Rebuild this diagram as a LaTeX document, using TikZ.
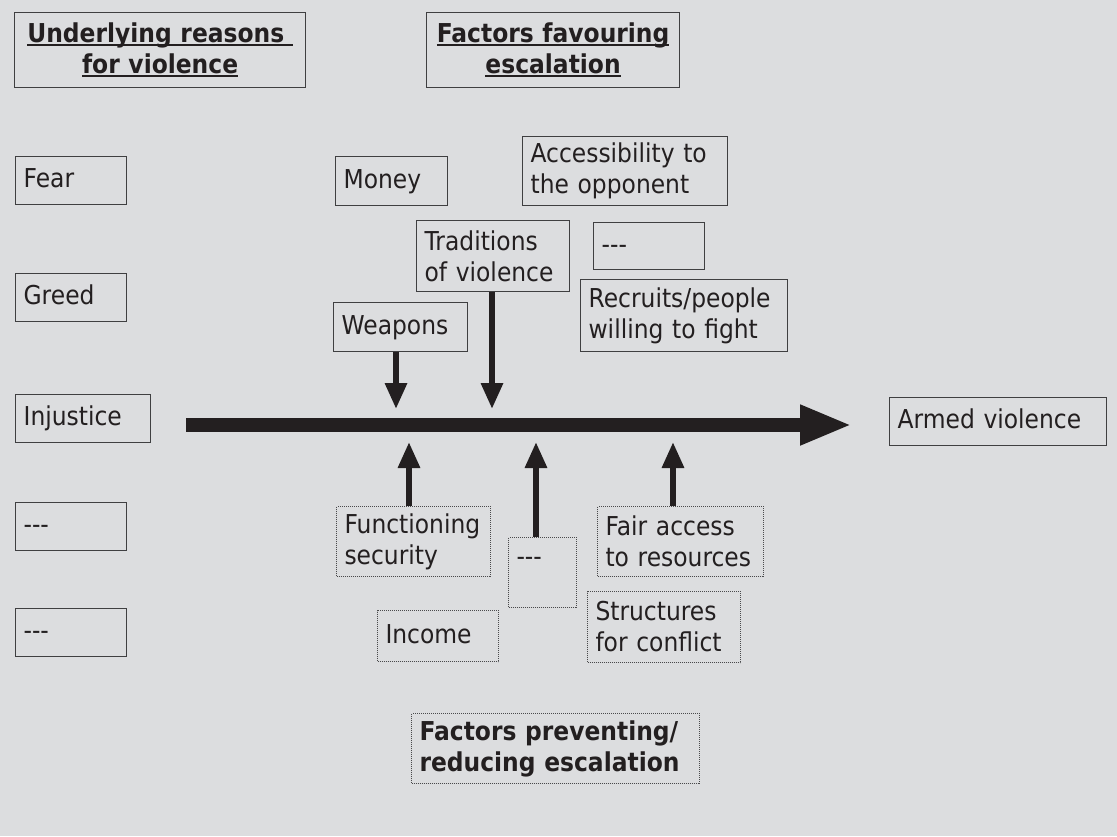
\documentclass[tikz,border=0pt]{standalone}
\usepackage{fontspec}
\setmainfont{DejaVu Sans}[FakeStretch=0.9]
\usetikzlibrary{arrows.meta,positioning}
\definecolor{paper}{HTML}{DCDDDF}
\definecolor{ink}{HTML}{231F20}
\definecolor{frame}{HTML}{3F3F41}
\definecolor{dots}{HTML}{4A4A4C}
\newsavebox\ulbox
\newcommand\headul[1]{\leavevmode\sbox\ulbox{#1}\rlap{\rule[-3pt]{\wd\ulbox}{2pt}}\usebox\ulbox}
\newcommand\openslot{-{}-{}-}
\tikzset{
  factor/.style={draw=frame,line width=1.2pt,anchor=north west,inner xsep=8pt,inner ysep=0pt,align=left,text=ink},
  damper/.style={factor,draw=dots,line width=1pt,dash pattern=on 1pt off 1pt},
  oneline/.style={text height=20pt,text depth=6pt},
  title/.style={font=\fontsize{26pt}{31pt}\selectfont\bfseries},
  size/.code 2 args={\pgfmathsetlengthmacro\boxtw{#1-16pt}%
    \edef\boxnext{\noexpand\tikzset{minimum width=#1,minimum height=#2,text width=\boxtw}}\boxnext},
  mainflow/.style={ink,line width=14pt,-{Triangle[length=52pt,width=37pt]}},
  push/.style={ink,line width=6pt,-{Triangle[length=26pt,width=21pt]}},
}
\begin{document}
\begin{tikzpicture}[x=1pt,y=-1pt,font=\fontsize{26pt}{31pt}\selectfont]
  \fill[paper] (0,0) rectangle (1117,836);
  % headings
  \node[factor,title,align=center,size={291pt}{75pt}] (headroots) at (14,12)
    {\headul{Underlying reasons\ }\\\headul{for violence}};
  \node[factor,title,align=center,size={253pt}{75pt}] (headpro) at (426,12)
    {\headul{Factors favouring}\\\headul{escalation}};
  % underlying reasons
  \foreach \name/\txt/\yy/\ww in {fear/Fear/156/111,greed/Greed/273/111,
    injustice/Injustice/394/135,moreA/\openslot/502/111,moreB/\openslot/608/111} {
      \node[factor,oneline,size={\ww pt}{48pt}] (\name) at (15,\yy) {\txt};
  }
  % factors favouring escalation
  \node[factor,oneline,size={112pt}{49pt}] (money) at (335,156) {Money};
  \node[factor,size={205pt}{69pt}] (access) at (522,136) {Accessibility to\\the opponent};
  \node[factor,size={153pt}{71pt}] (traditions) at (416,220) {Traditions\\of violence};
  \node[factor,oneline,size={111pt}{47pt}] (moreC) at (593,222) {\openslot};
  \node[factor,size={207pt}{72pt}] (recruits) at (580,279) {Recruits/people\\willing to fight};
  \node[factor,oneline,size={134pt}{49pt}] (weapons) at (333,302) {Weapons};
  \node[factor,oneline,size={217pt}{48pt}] (armed) at (889,397) {Armed violence};
  % factors preventing escalation
  \node[damper,size={154pt}{70pt}] (functioning) at (336,506) {Functioning\\security};
  \node[damper,size={68pt}{70pt},text height=28pt,text depth=42pt] (moreD) at (508,537) {\openslot};
  \node[damper,size={166pt}{70pt}] (fair) at (597,506) {Fair access\\to resources};
  \node[damper,oneline,size={121pt}{51pt}] (income) at (377,610) {Income};
  \node[damper,size={153pt}{71pt}] (structures) at (587,591) {Structures\\for conflict};
  \node[damper,title,size={288pt}{70pt}] (headcon) at (411,713)
    {Factors preventing/\\reducing escalation};
  % arrows
  \coordinate (flowL) at (186,425);
  \coordinate (flowR) at (852,425);
  \draw[mainflow] (flowL) -- (flowR);
  \foreach \src/\xx in {weapons/396,traditions/492} {
    \coordinate (tip\src) at (\xx,409);
    \draw[push] (\src.south -| tip\src) -- (tip\src);
  }
  \foreach \src/\xx in {functioning/409,moreD/536,fair/673} {
    \coordinate (tip\src) at (\xx,442);
    \draw[push] (\src.north -| tip\src) -- (tip\src);
  }
\end{tikzpicture}
\end{document}
